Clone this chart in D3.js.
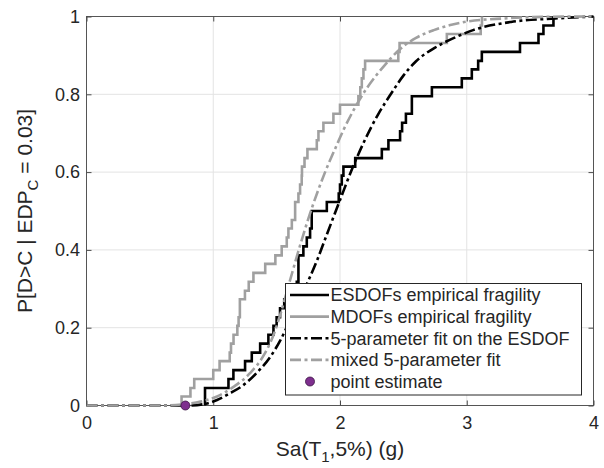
<!DOCTYPE html>
<html>
<head>
<meta charset="utf-8">
<title>Fragility curves</title>
<script src="https://d3js.org/d3.v7.min.js"></script>
<style>
  body { margin: 0; background: #fff; }
  svg { display: block; font-family: "Liberation Sans", Arial, sans-serif; }
  .grid line { stroke: #e3e3e3; stroke-width: 1; }
  .axis path { display: none; }
  .axis line { stroke: #4a4a4a; }
  .axis text { fill: #262626; font-size: 18px; }
</style>
</head>
<body>
<svg id="chart" width="604" height="468"></svg>
<script>
// ESDOF empirical fragility (stairs): x where the step happens, level after it
const esdofX = [0.935, 1.12, 1.159, 1.251, 1.304, 1.37, 1.435, 1.475, 1.50, 1.527, 1.56, 1.62, 1.659, 1.672, 1.711, 1.738, 1.764, 1.777, 1.896, 1.99, 2.0, 2.014, 2.027, 2.12, 2.33, 2.382, 2.474, 2.49, 2.52, 2.567, 2.725, 2.961, 3.04, 3.09, 3.119, 3.42, 3.566, 3.605, 3.684];
const esdofY = [0.045, 0.068, 0.091, 0.114, 0.136, 0.159, 0.182, 0.205, 0.227, 0.25, 0.273, 0.295, 0.318, 0.386, 0.409, 0.432, 0.455, 0.5, 0.523, 0.545, 0.568, 0.591, 0.614, 0.636, 0.659, 0.682, 0.705, 0.727, 0.75, 0.795, 0.818, 0.841, 0.864, 0.886, 0.909, 0.932, 0.955, 0.977, 1.0];

// MDOF empirical fragility (stairs)
const mdofX = [0.75, 0.82, 0.85, 1.0, 1.05, 1.13, 1.14, 1.16, 1.19, 1.20, 1.21, 1.25, 1.28, 1.317, 1.41, 1.49, 1.54, 1.58, 1.593, 1.62, 1.646, 1.672, 1.685, 1.698, 1.70, 1.72, 1.743, 1.817, 1.83, 1.869, 1.948, 2.0, 2.145, 2.16, 2.172, 2.185, 2.198, 2.46, 2.47, 2.843, 3.11, 3.12];
const mdofY = [0.023, 0.045, 0.068, 0.091, 0.114, 0.136, 0.159, 0.182, 0.205, 0.227, 0.273, 0.295, 0.318, 0.341, 0.364, 0.386, 0.409, 0.432, 0.455, 0.477, 0.523, 0.545, 0.568, 0.591, 0.614, 0.636, 0.659, 0.682, 0.705, 0.727, 0.75, 0.773, 0.795, 0.818, 0.841, 0.864, 0.886, 0.909, 0.932, 0.955, 0.977, 1.0];

// 5-parameter fit on the ESDOF
const fitEsdofX = [0, 0.8, 0.935, 1.03, 1.13, 1.24, 1.34, 1.45, 1.53, 1.6, 1.7, 1.82, 1.9, 2.0, 2.1, 2.2, 2.3, 2.4, 2.5, 2.6, 2.75, 2.9, 3.05, 3.35, 3.7, 4.0];
const fitEsdofY = [0, 0, 0.004, 0.014, 0.031, 0.053, 0.083, 0.125, 0.168, 0.215, 0.285, 0.374, 0.443, 0.528, 0.612, 0.685, 0.748, 0.80, 0.848, 0.885, 0.92, 0.945, 0.965, 0.986, 0.995, 1.0];

// mixed 5-parameter fit
const fitMixedX = [0, 0.6, 0.76, 0.9, 1.03, 1.16, 1.29, 1.4, 1.48, 1.53, 1.6, 1.67, 1.76, 1.88, 1.975, 2.03, 2.1, 2.21, 2.34, 2.47, 2.6, 2.74, 2.87, 3.0, 3.3, 3.6, 4.0];
const fitMixedY = [0, 0, 0.003, 0.01, 0.023, 0.048, 0.083, 0.13, 0.185, 0.235, 0.315, 0.395, 0.49, 0.598, 0.67, 0.71, 0.755, 0.815, 0.87, 0.915, 0.945, 0.965, 0.978, 0.987, 0.995, 0.999, 1.0];

// point estimate
const pointX = [0.78];
const pointY = [0];

const xTicks = [0, 1, 2, 3, 4];
const yTicks = [0, 0.2, 0.4, 0.6, 0.8, 1];
const legendLabels = ["ESDOFs empirical fragility", "MDOFs empirical fragility", "5-parameter fit on the ESDOF", "mixed 5-parameter fit", "point estimate"];

const svg = d3.select("#chart");
const m = { left: 86.5, right: 593.5, top: 16.5, bottom: 405.5 };

const x = d3.scaleLinear().domain([0, 4]).range([m.left, m.right]);
const y = d3.scaleLinear().domain([0, 1]).range([m.bottom, m.top]);

svg.append("rect").attr("width", 604).attr("height", 468).attr("fill", "#fff");

// grid
const grid = svg.append("g").attr("class", "grid");
grid.selectAll(".gx").data(xTicks.slice(1, -1)).enter().append("line")
  .attr("x1", d => x(d)).attr("x2", d => x(d)).attr("y1", m.top).attr("y2", m.bottom);
grid.selectAll(".gy").data(yTicks.slice(1, -1)).enter().append("line")
  .attr("y1", d => y(d)).attr("y2", d => y(d)).attr("x1", m.left).attr("x2", m.right);

// box
svg.append("rect").attr("x", m.left).attr("y", m.top).attr("width", m.right - m.left).attr("height", m.bottom - m.top)
  .attr("fill", "none").attr("stroke", "#555").attr("stroke-width", 1);

// axes (ticks inward, mirrored on top/right)
svg.append("g").attr("class", "axis").attr("transform", `translate(0,${m.bottom})`)
  .call(d3.axisBottom(x).tickValues(xTicks).tickSize(-5).tickPadding(11).tickFormat(d3.format("d")));
svg.append("g").attr("class", "axis").attr("transform", `translate(${m.left},0)`)
  .call(d3.axisLeft(y).tickValues(yTicks).tickSize(-5).tickPadding(6.5).tickFormat(d => d === 0 || d === 1 ? d : d3.format(".1f")(d)));
svg.append("g").attr("class", "axis").attr("transform", `translate(0,${m.top})`)
  .call(d3.axisTop(x).tickValues(xTicks).tickSize(-5).tickFormat(""));
svg.append("g").attr("class", "axis").attr("transform", `translate(${m.right},0)`)
  .call(d3.axisRight(y).tickValues(yTicks).tickSize(-5).tickFormat(""));

svg.append("defs").append("clipPath").attr("id", "clip").append("rect")
  .attr("x", m.left - 2).attr("y", m.top - 2).attr("width", m.right - m.left + 4).attr("height", m.bottom - m.top + 4);

const plot = svg.append("g").attr("clip-path", "url(#clip)");

const stairs = (xs, ys) => {
  const pts = [[xs[0], 0]];
  xs.forEach((v, i) => pts.push([v, ys[i]]));
  return pts;
};
const stepLine = d3.line().x(d => x(d[0])).y(d => y(d[1])).curve(d3.curveStepAfter);
const smoothLine = d3.line().x(d => x(d[0])).y(d => y(d[1])).curve(d3.curveMonotoneX);

const black = "#000000", gray = "#a0a0a0", dashDot = "11,3.5,3,3.5";

plot.append("path").datum(stairs(esdofX, esdofY)).attr("d", stepLine)
  .attr("fill", "none").attr("stroke", black).attr("stroke-width", 2.6);
plot.append("path").datum(stairs(mdofX, mdofY)).attr("d", stepLine)
  .attr("fill", "none").attr("stroke", gray).attr("stroke-width", 2.6);
plot.append("path").datum(fitEsdofX.map((v, i) => [v, fitEsdofY[i]])).attr("d", smoothLine)
  .attr("fill", "none").attr("stroke", black).attr("stroke-width", 2.6).attr("stroke-dasharray", dashDot);
plot.append("path").datum(fitMixedX.map((v, i) => [v, fitMixedY[i]])).attr("d", smoothLine)
  .attr("fill", "none").attr("stroke", gray).attr("stroke-width", 2.6).attr("stroke-dasharray", dashDot);

svg.selectAll(".pt").data(pointX).enter().append("circle")
  .attr("cx", d => x(d)).attr("cy", (d, i) => y(pointY[i])).attr("r", 4.5)
  .attr("fill", "#7e2f8e").attr("stroke", "#3a1442").attr("stroke-width", 0.8);

// axis labels
const xl = svg.append("text").attr("x", (m.left + m.right) / 2).attr("y", 456)
  .attr("text-anchor", "middle").attr("font-size", 21).attr("fill", "#262626");
xl.append("tspan").text("Sa(T");
xl.append("tspan").attr("font-size", 15).attr("dy", 6).text("1");
xl.append("tspan").attr("dy", -6).text(",5%) (g)");

const yl = svg.append("text").attr("transform", `translate(32,${(m.top + m.bottom) / 2}) rotate(-90)`)
  .attr("text-anchor", "middle").attr("font-size", 21).attr("fill", "#262626");
yl.append("tspan").text("P[D>C | EDP");
yl.append("tspan").attr("font-size", 15).attr("dy", 6).text("C");
yl.append("tspan").attr("dy", -6).text(" = 0.03]");

// legend
const lg = svg.append("g");
lg.append("rect").attr("x", 285.5).attr("y", 283.5).attr("width", 296).attr("height", 111.5)
  .attr("fill", "#fff").attr("stroke", "#262626").attr("stroke-width", 1);
const rowY = d3.scaleLinear().domain([0, 4]).range([295, 381.5]);
const legendStyle = [
  { stroke: black, dash: null },
  { stroke: gray, dash: null },
  { stroke: black, dash: dashDot },
  { stroke: gray, dash: dashDot },
  { marker: true }
];
legendLabels.forEach((label, i) => {
  const cy = rowY(i);
  const s = legendStyle[i];
  if (s.marker) {
    lg.append("circle").attr("cx", 310).attr("cy", cy).attr("r", 4.5)
      .attr("fill", "#7e2f8e").attr("stroke", "#3a1442").attr("stroke-width", 0.8);
  } else {
    lg.append("line").attr("x1", 290).attr("x2", 329).attr("y1", cy).attr("y2", cy)
      .attr("stroke", s.stroke).attr("stroke-width", 2.6).attr("stroke-dasharray", s.dash);
  }
  lg.append("text").attr("x", 330.5).attr("y", cy).attr("dy", "0.35em")
    .attr("font-size", 18).attr("fill", "#262626").text(label);
});
</script>
</body>
</html>
